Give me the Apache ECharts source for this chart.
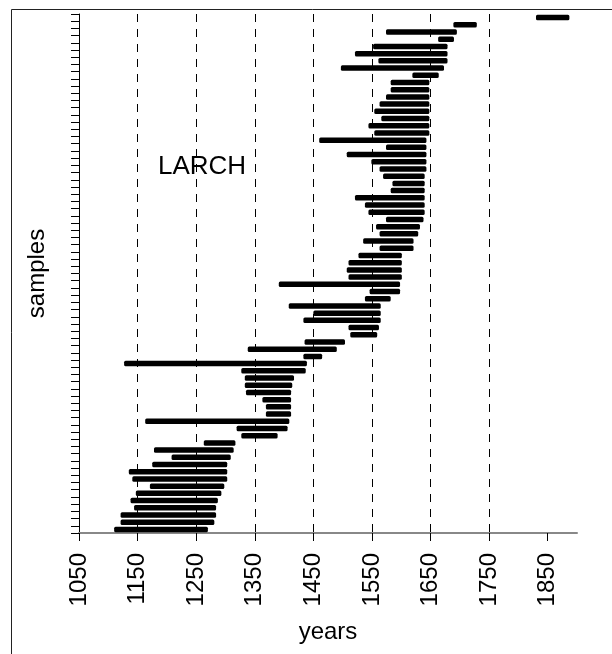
<!DOCTYPE html>
<html>
<head>
<meta charset="utf-8">
<script src="https://cdn.jsdelivr.net/npm/echarts@6/dist/echarts.min.js"></script>
<style>
  html, body { margin: 0; padding: 0; background: #fff; }
  #chart { width: 612px; height: 654px; }
</style>
</head>
<body>
<div id="chart"></div>
<script>
// tree-ring sample spans, listed top to bottom
const startYears = [
  1830, 1689, 1574, 1663, 1552, 1521, 1561, 1497, 1619, 1582,
  1582, 1574, 1563, 1554, 1566, 1544, 1554, 1460, 1574, 1507,
  1549, 1563, 1569, 1585, 1582, 1521, 1538, 1544, 1574, 1557,
  1563, 1535, 1563, 1527, 1510, 1507, 1510, 1391, 1546, 1538,
  1408, 1450, 1433, 1510, 1513, 1435, 1338, 1433, 1127, 1327,
  1333, 1333, 1335, 1363, 1369, 1369, 1163, 1319, 1327, 1263,
  1178, 1208, 1175, 1135, 1141, 1171, 1147, 1138, 1144, 1121,
  1121, 1110
]
const endYears = [
  1887, 1729, 1695, 1690, 1679, 1679, 1679, 1673, 1664, 1648,
  1648, 1648, 1648, 1648, 1648, 1648, 1648, 1643, 1643, 1643,
  1643, 1643, 1640, 1640, 1640, 1640, 1640, 1640, 1638, 1632,
  1629, 1621, 1621, 1601, 1601, 1601, 1601, 1598, 1598, 1582,
  1565, 1565, 1565, 1562, 1559, 1504, 1490, 1465, 1439, 1437,
  1417, 1414, 1412, 1412, 1412, 1412, 1409, 1406, 1389, 1317,
  1314, 1309, 1303, 1303, 1303, 1298, 1293, 1287, 1284, 1284,
  1281, 1270
]
const samples = startYears.map((_, i) => 'S' + (i + 1))
const tickYears = [1050, 1150, 1250, 1350, 1450, 1550, 1650, 1750, 1850]

const chart = echarts.init(document.getElementById('chart'))

const font = 'Liberation Sans, Arial, sans-serif'

const option = {
  animation: false,
  grid: {
    left: 79,
    top: 14,
    width: 498,
    height: 519
  },
  graphic: [
    {
      type: 'rect',
      shape: { x: 11.5, y: 9.5, width: 700, height: 700 },
      style: { fill: 'none', stroke: '#222', lineWidth: 1 },
      silent: true
    },
    {
      type: 'text',
      x: 202,
      y: 167,
      style: {
        text: 'LARCH',
        fontSize: 26,
        fontFamily: font,
        fill: '#000',
        align: 'center',
        verticalAlign: 'middle'
      }
    }
  ],
  xAxis: {
    type: 'value',
    min: 1050,
    max: 1900,
    interval: 100,
    name: 'years',
    nameLocation: 'middle',
    nameGap: 87,
    nameTextStyle: { fontSize: 24, color: '#000', fontFamily: font },
    axisLine: { show: true, lineStyle: { color: '#888', width: 2 } },
    axisTick: { show: true, length: 8, lineStyle: { color: '#000' }, customValues: tickYears },
    axisLabel: {
      rotate: 90,
      margin: 20,
      fontSize: 24,
      color: '#000',
      fontFamily: font,
      customValues: tickYears,
      formatter: (v) => String(v)
    },
    splitLine: {
      show: true,
      showMinLine: false,
      showMaxLine: false,
      lineStyle: { color: '#000', width: 1, type: [8, 7] }
    }
  },
  yAxis: {
    type: 'category',
    inverse: true,
    data: samples,
    name: 'samples',
    nameLocation: 'middle',
    nameGap: 30,
    nameTextStyle: { fontSize: 24, color: '#000', fontFamily: font },
    axisLine: { show: true, lineStyle: { color: '#000', width: 1 } },
    axisTick: { show: true, interval: 0, length: 8, lineStyle: { color: '#000' } },
    axisLabel: { show: false, interval: 0 },
    splitLine: { show: false }
  },
  series: [
    {
      type: 'custom',
      data: samples.map((s, i) => [i, startYears[i], endYears[i]]),
      encode: { y: 0, x: [1, 2] },
      renderItem: (params, api) => {
        const idx = api.value(0)
        const p0 = api.coord([api.value(1), idx])
        const p1 = api.coord([api.value(2), idx])
        const h = 5.5
        return {
          type: 'rect',
          shape: { x: p0[0], y: p0[1] - h / 2, width: p1[0] - p0[0], height: h, r: 1.5 },
          style: { fill: '#000' }
        }
      }
    }
  ]
}

chart.setOption(option)
</script>
</body>
</html>
